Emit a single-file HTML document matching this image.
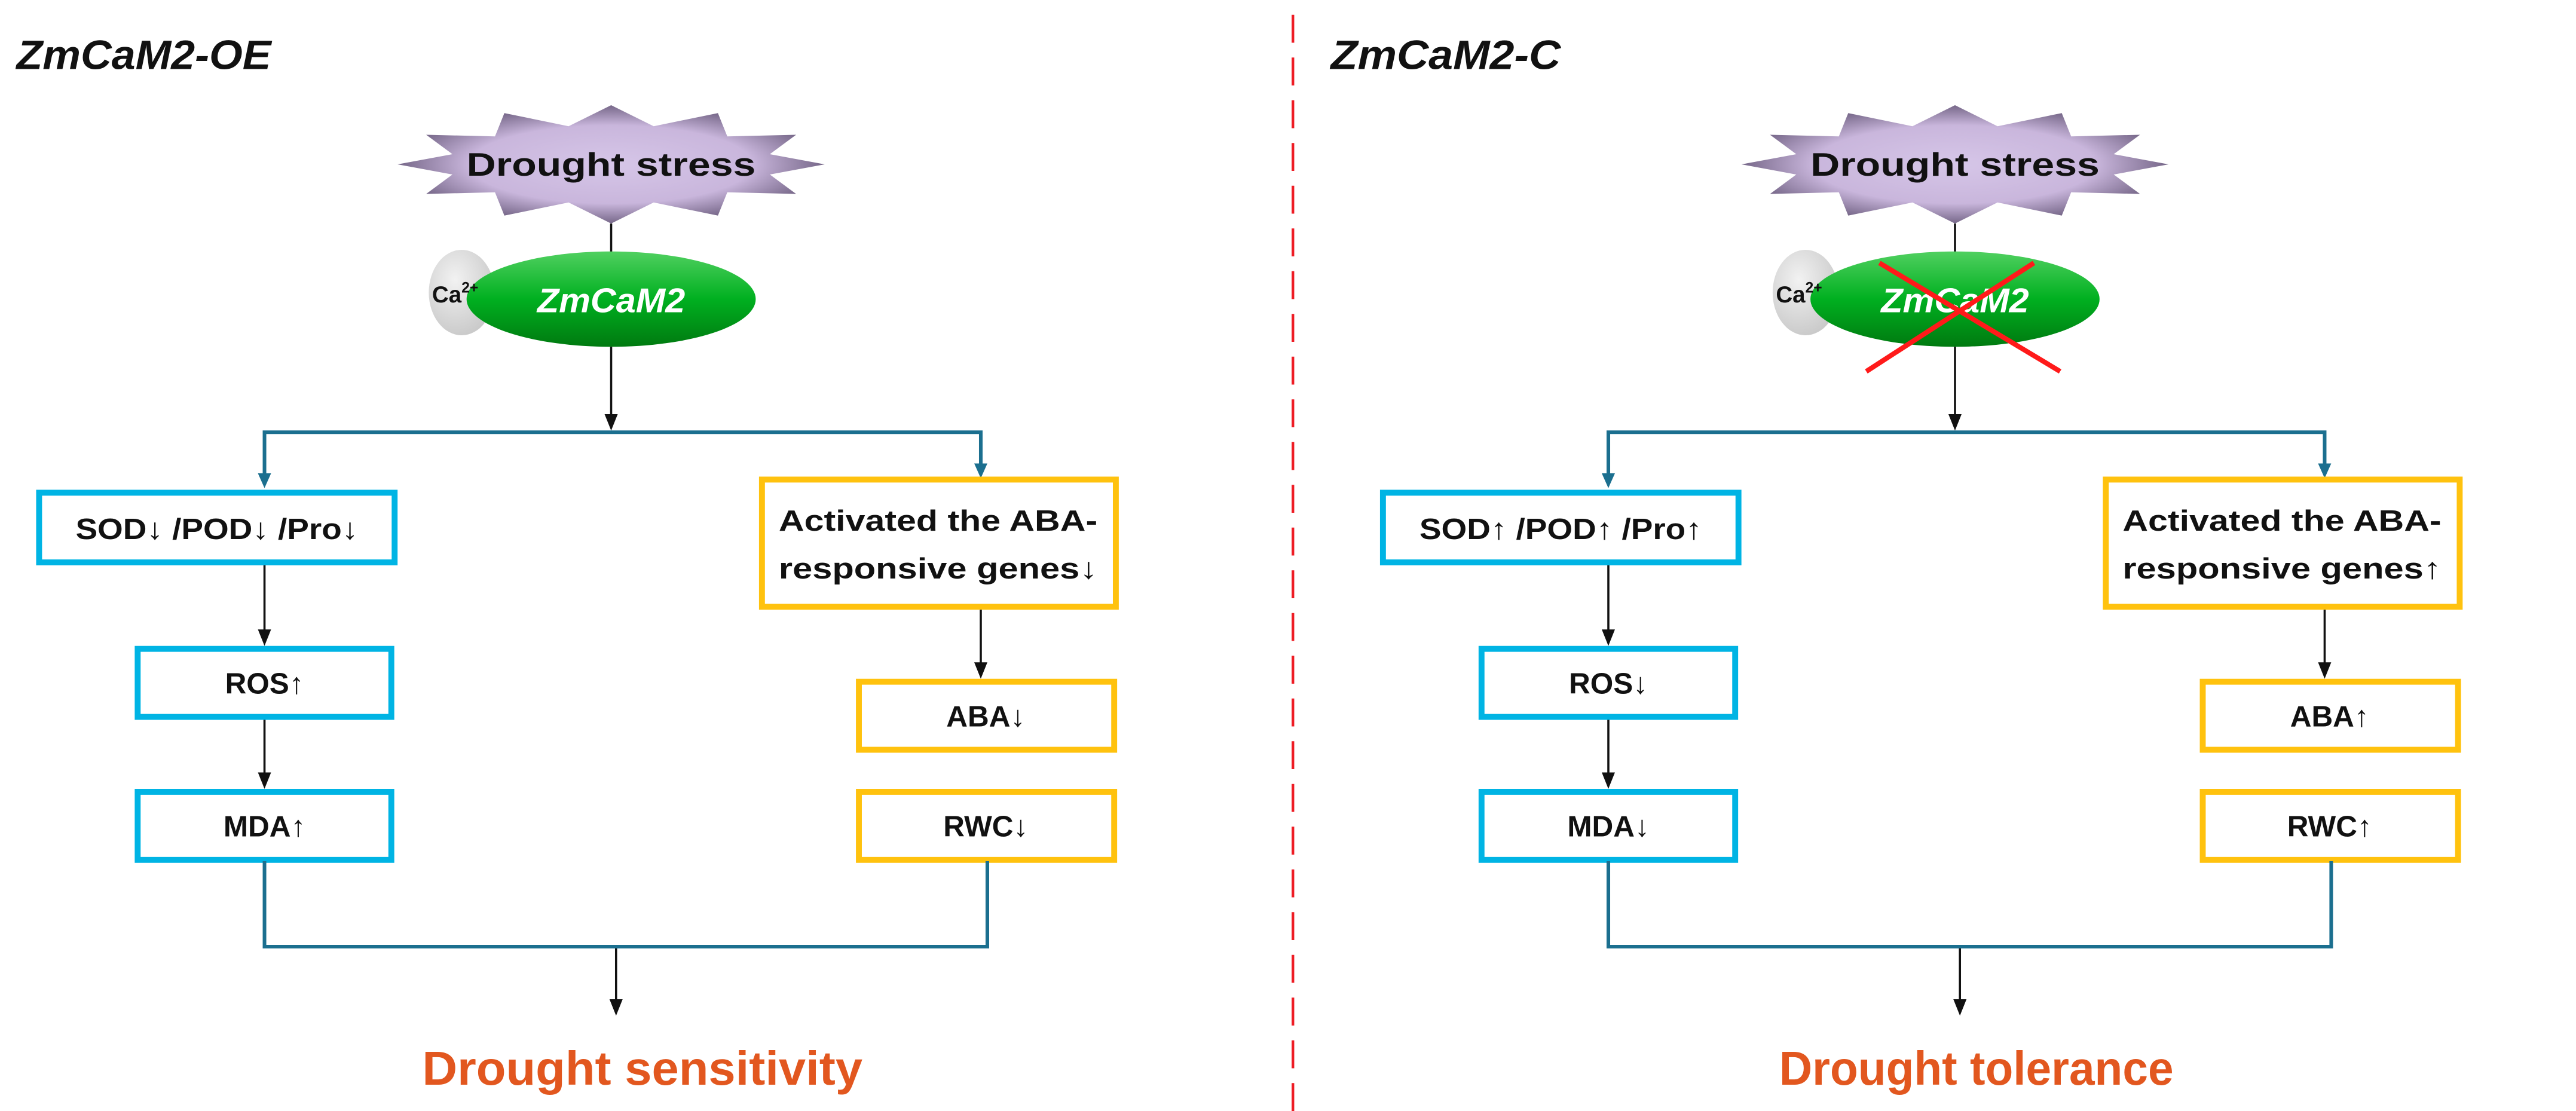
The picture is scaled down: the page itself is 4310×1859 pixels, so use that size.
<!DOCTYPE html>
<html><head><meta charset="utf-8"><style>
html,body{margin:0;padding:0;background:#fff;}
svg{display:block;}
text{font-family:"Liberation Sans",Arial,sans-serif;font-weight:bold;}
</style></head><body>
<svg width="4310" height="1859" viewBox="0 0 1568 676" preserveAspectRatio="none" xmlns="http://www.w3.org/2000/svg">
<defs>
<radialGradient id="st" cx="50%" cy="50%" r="55%">
<stop offset="0" stop-color="#d6c6e8"/><stop offset="0.6" stop-color="#c9b6dc"/><stop offset="1" stop-color="#5e5070"/>
</radialGradient>
<linearGradient id="gr" x1="0" y1="0" x2="0" y2="1">
<stop offset="0" stop-color="#50d060"/><stop offset="0.5" stop-color="#00b020"/><stop offset="1" stop-color="#007a10"/>
</linearGradient>
<radialGradient id="ca" cx="40%" cy="35%" r="70%">
<stop offset="0" stop-color="#f2f2f2"/><stop offset="1" stop-color="#c8c8c8"/>
</radialGradient>
<g id="panel">
<polygon fill="url(#st)" points="502,100 468.6,106.2 484.6,118 442.7,117 437,131.2 397.9,123.2 372,136 346.1,123.2 307,131.2 301.3,117 259.4,118 275.4,106.2 242,100 275.4,93.8 259.4,82 301.3,83 307,68.8 346.1,76.8 372,64 397.9,76.8 437,68.8 442.7,83 484.6,82 468.6,93.8"/>
<line x1="372" y1="136" x2="372" y2="156" stroke="#111" stroke-width="1.3"/>
<ellipse cx="281" cy="178" rx="20" ry="26" fill="url(#ca)"/>
<ellipse cx="372" cy="182" rx="88" ry="29" fill="url(#gr)"/>
<text x="263" y="184" font-size="14" fill="#111">Ca<tspan font-size="9" dy="-6">2+</tspan></text>
<line x1="372" y1="211" x2="372" y2="254" stroke="#111" stroke-width="1.3"/>
<path d="M368,252 L376,252 L372,262 Z" fill="#111"/>
<path d="M161,288 V263 H597 V282" fill="none" stroke="#1b6f8f" stroke-width="2.2"/>
<path d="M157,288 L165,288 L161,297 Z M593,282 L601,282 L597,291 Z" fill="#1b6f8f"/>
<g fill="#fff" stroke="#00b4e4" stroke-width="3.6">
<rect x="23.8" y="299.8" width="216.4" height="42.4"/>
<rect x="83.8" y="394.8" width="154.4" height="41.4"/>
<rect x="83.8" y="481.8" width="154.4" height="41.4"/>
</g>
<g fill="#fff" stroke="#ffc20e" stroke-width="3.6">
<rect x="463.8" y="291.8" width="215.4" height="77.4"/>
<rect x="522.8" y="414.8" width="155.4" height="41.4"/>
<rect x="522.8" y="481.8" width="155.4" height="41.4"/>
</g>
<g stroke="#111" stroke-width="1.3">
<line x1="161" y1="344" x2="161" y2="385"/>
<line x1="161" y1="438" x2="161" y2="472"/>
<line x1="597" y1="371" x2="597" y2="405"/>
<line x1="375" y1="577" x2="375" y2="610"/>
</g>
<path d="M157,383 L165,383 L161,393 Z M157,470 L165,470 L161,480 Z M593,403 L601,403 L597,413 Z M371,608 L379,608 L375,618 Z" fill="#111"/>
<path d="M161,524 V576 H601 V524" fill="none" stroke="#1b6f8f" stroke-width="2.2"/>
</g>
</defs>

<line x1="787" y1="9" x2="787" y2="676" stroke="#ee1c24" stroke-width="1.6" stroke-dasharray="17,9"/>

<use href="#panel"/>
<use href="#panel" transform="translate(818,0)"/>

<text x="10" y="42" font-size="25" font-style="italic" fill="#111" textLength="155" lengthAdjust="spacingAndGlyphs">ZmCaM2-OE</text>
<text x="372" y="107" font-size="20" fill="#111" text-anchor="middle" textLength="176" lengthAdjust="spacingAndGlyphs">Drought stress</text>
<text x="372" y="190" font-size="21" font-style="italic" fill="#fff" text-anchor="middle" textLength="90" lengthAdjust="spacingAndGlyphs">ZmCaM2</text>
<text x="132" y="328" font-size="18" fill="#111" text-anchor="middle" textLength="172" lengthAdjust="spacingAndGlyphs">SOD↓ /POD↓ /Pro↓</text>
<text x="161" y="422" font-size="18" fill="#111" text-anchor="middle">ROS↑</text>
<text x="161" y="509" font-size="18" fill="#111" text-anchor="middle">MDA↑</text>
<text x="571" y="323" font-size="18" fill="#111" text-anchor="middle" textLength="194" lengthAdjust="spacingAndGlyphs">Activated the ABA-</text>
<text x="571" y="352" font-size="18" fill="#111" text-anchor="middle" textLength="194" lengthAdjust="spacingAndGlyphs">responsive genes↓</text>
<text x="600" y="442" font-size="18" fill="#111" text-anchor="middle">ABA↓</text>
<text x="600" y="509" font-size="18" fill="#111" text-anchor="middle">RWC↓</text>
<text x="391" y="660" font-size="29" fill="#e2571f" text-anchor="middle" textLength="268" lengthAdjust="spacingAndGlyphs">Drought sensitivity</text>

<text x="810" y="42" font-size="25" font-style="italic" fill="#111" textLength="140" lengthAdjust="spacingAndGlyphs">ZmCaM2-C</text>
<text x="1190" y="107" font-size="20" fill="#111" text-anchor="middle" textLength="176" lengthAdjust="spacingAndGlyphs">Drought stress</text>
<text x="1190" y="190" font-size="21" font-style="italic" fill="#fff" text-anchor="middle" textLength="90" lengthAdjust="spacingAndGlyphs">ZmCaM2</text>
<g stroke="#ff1a1a" stroke-width="3">
<line x1="1144" y1="160" x2="1254" y2="226"/>
<line x1="1238" y1="160" x2="1136" y2="226"/>
</g>
<text x="950" y="328" font-size="18" fill="#111" text-anchor="middle" textLength="172" lengthAdjust="spacingAndGlyphs">SOD↑ /POD↑ /Pro↑</text>
<text x="979" y="422" font-size="18" fill="#111" text-anchor="middle">ROS↓</text>
<text x="979" y="509" font-size="18" fill="#111" text-anchor="middle">MDA↓</text>
<text x="1389" y="323" font-size="18" fill="#111" text-anchor="middle" textLength="194" lengthAdjust="spacingAndGlyphs">Activated the ABA-</text>
<text x="1389" y="352" font-size="18" fill="#111" text-anchor="middle" textLength="194" lengthAdjust="spacingAndGlyphs">responsive genes↑</text>
<text x="1418" y="442" font-size="18" fill="#111" text-anchor="middle">ABA↑</text>
<text x="1418" y="509" font-size="18" fill="#111" text-anchor="middle">RWC↑</text>
<text x="1203" y="660" font-size="29" fill="#e2571f" text-anchor="middle" textLength="240" lengthAdjust="spacingAndGlyphs">Drought tolerance</text>
</svg>
</body></html>
